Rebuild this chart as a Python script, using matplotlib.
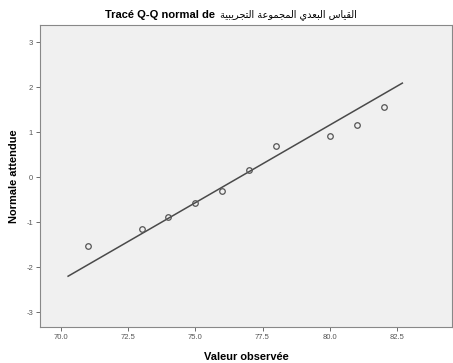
import matplotlib
matplotlib.use('Agg')
import matplotlib.pyplot as plt

observed = [71, 73, 74, 75, 76, 77, 78, 80, 81, 82]
expected = [-1.53, -1.16, -0.89, -0.58, -0.31, 0.16, 0.69, 0.91, 1.16, 1.56]
line_x = [70.27, 82.7]
line_y = [-2.2, 2.09]
x_ticks = [70.0, 72.5, 75.0, 77.5, 80.0, 82.5]
y_ticks = [-3, -2, -1, 0, 1, 2, 3]

title_latin = "Tracé Q-Q normal de "
title_arabic = "القياس البعدي المجموعة التجريبية"

# matplotlib has no arabic shaping, so join letters by hand
FORMS = {
    'ا': (0xFE8D, 0xFE8E, None, None),
    'ل': (0xFEDD, 0xFEDE, 0xFEDF, 0xFEE0),
    'ق': (0xFED5, 0xFED6, 0xFED7, 0xFED8),
    'ي': (0xFEF1, 0xFEF2, 0xFEF3, 0xFEF4),
    'س': (0xFEB1, 0xFEB2, 0xFEB3, 0xFEB4),
    'ب': (0xFE8F, 0xFE90, 0xFE91, 0xFE92),
    'ع': (0xFEC9, 0xFECA, 0xFECB, 0xFECC),
    'د': (0xFEA9, 0xFEAA, None, None),
    'م': (0xFEE1, 0xFEE2, 0xFEE3, 0xFEE4),
    'ج': (0xFE9D, 0xFE9E, 0xFE9F, 0xFEA0),
    'و': (0xFEED, 0xFEEE, None, None),
    'ة': (0xFE93, 0xFE94, None, None),
    'ت': (0xFE95, 0xFE96, 0xFE97, 0xFE98),
    'ر': (0xFEAD, 0xFEAE, None, None),
}


def shape(word):
    out = []
    for i, ch in enumerate(word):
        f = FORMS[ch]
        prev_joins = i > 0 and FORMS[word[i - 1]][2] is not None
        next_joins = i < len(word) - 1 and f[2] is not None
        if prev_joins and next_joins:
            code = f[3]
        elif prev_joins:
            code = f[1]
        elif next_joins:
            code = f[2]
        else:
            code = f[0]
        out.append(chr(code))
    return ''.join(out)


def shape_rtl(text):
    words = [shape(w) for w in text.split(' ')]
    return ' '.join(w[::-1] for w in words[::-1])


plt.rcParams['font.family'] = ['Liberation Sans', 'DejaVu Sans']

fig = plt.figure(figsize=(4.53, 3.63), dpi=100)
ax = fig.add_axes([0.088, 0.099, 0.91, 0.832])
ax.set_facecolor('#f0f0f0')

ax.plot(line_x, line_y, color='#4a4a4a', linewidth=1.1)
ax.plot(observed, expected, linestyle='none', marker='o', markersize=4,
        markerfacecolor='none', markeredgecolor='#555555', markeredgewidth=0.9)

ax.set_xlim(69.22, 84.55)
ax.set_ylim(-3.33, 3.38)
ax.set_xticks(x_ticks)
ax.set_xticklabels(['%.1f' % t for t in x_ticks])
ax.set_yticks(y_ticks)
ax.set_yticklabels([str(t).replace('\u2212', '-') for t in y_ticks])
ax.tick_params(direction='out', length=3, width=0.6, labelsize=5.5,
               colors='#555555', pad=2)

for sp in ax.spines.values():
    sp.set_color('#888888')
    sp.set_linewidth(0.8)

ax.set_xlabel('Valeur observée', fontsize=7.9, fontweight='bold', labelpad=8)
ax.set_ylabel('Normale attendue', fontsize=7.9, fontweight='bold')
ax.yaxis.set_label_coords(-0.05, 0.5)

fig.text(0.481, 0.958, title_latin, ha='right', va='center', fontsize=8,
         fontweight='bold')
fig.text(0.486, 0.961, shape_rtl(title_arabic), ha='left', va='center',
         fontsize=7, family='DejaVu Sans')

fig.savefig('out.png', dpi=100)
